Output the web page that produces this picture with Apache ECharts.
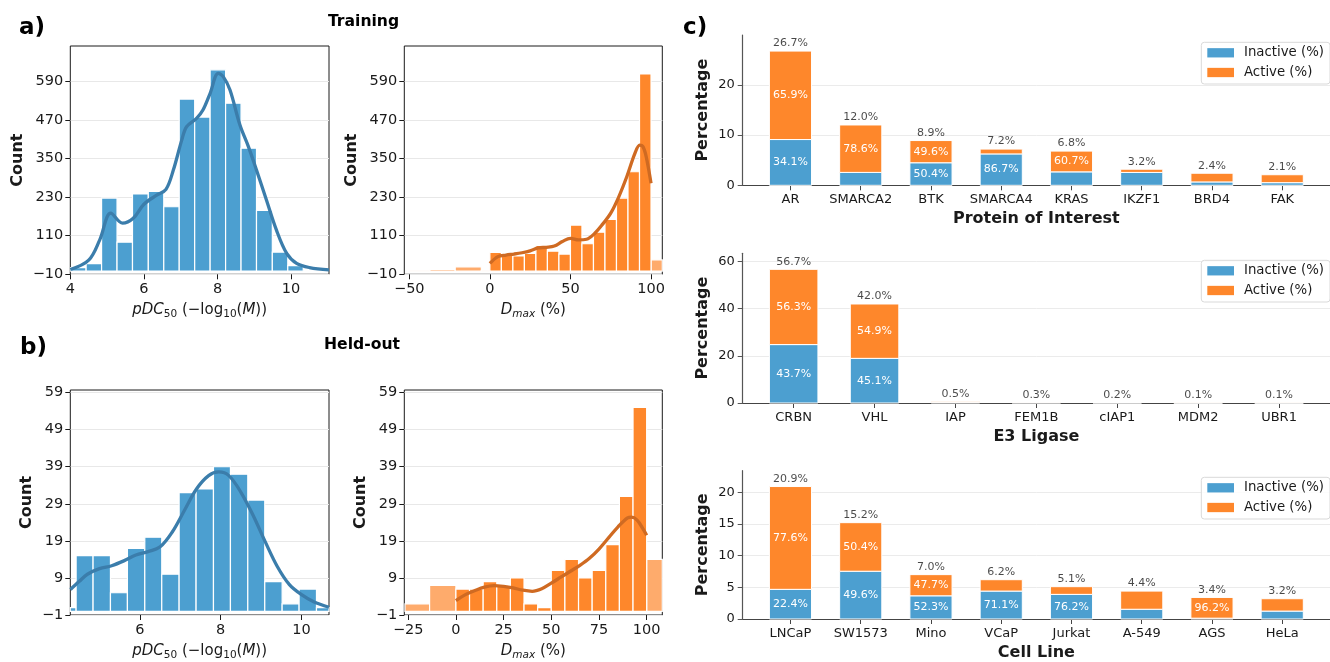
<!DOCTYPE html>
<html><head><meta charset="utf-8">
<script src="https://cdn.jsdelivr.net/npm/echarts@6/dist/echarts.min.js"></script>
<style>html,body{margin:0;padding:0;background:#fff}#c{width:1330px;height:662px}</style>
</head><body><div id="c"></div><script>
// ---------- DATA ----------
// a) Training pDC50 histogram
const trainPdcEdges = [4.01, 4.43, 4.85, 5.27, 5.69, 6.12, 6.54, 6.96, 7.38, 7.80, 8.22, 8.64, 9.06, 9.49, 9.91, 10.33];
const trainPdcCounts = [11, 23, 227, 90, 240, 248, 200, 535, 479, 626, 522, 382, 189, 59, 17];
const trainPdcKdeX = [4.0, 4.5, 4.8, 5.1, 5.42, 5.71, 6.0, 6.35, 6.6, 6.8, 7.03, 7.16, 7.43, 7.6, 7.8, 8.02, 8.16, 8.34, 8.61, 8.84, 9.06, 9.33, 9.6, 9.88, 10.15, 10.5, 11.03];
const trainPdcKdeY = [5, 34, 97, 180, 149, 164, 208, 236, 254, 314, 408, 449, 475, 500, 553, 615, 604, 563, 454, 387, 314, 221, 128, 55, 24, 11, 4];
// a) Training Dmax histogram
const trainDmaxEdges = [0, 7.14, 14.29, 21.43, 28.57, 35.71, 42.86, 50, 57.14, 64.29, 71.43, 78.57, 85.71, 92.86, 100];
const trainDmaxCounts = [58, 49, 47, 55, 80, 62, 53, 143, 85, 121, 161, 227, 309, 613];
const trainDmaxOutLowEdges = [-49.6, -37.2, -21.5, -5.3, 0];
const trainDmaxOutLowCounts = [1, 5, 13, 1];
const trainDmaxOutHighEdges = [100, 107.5];
const trainDmaxOutHighCounts = [35];
const trainDmaxKdeX = [0, 5, 10, 15, 20, 25, 30, 35, 40, 45, 50, 55, 60, 65, 70, 75, 80, 85, 90, 93, 95, 97, 100];
const trainDmaxKdeY = [24, 45, 50, 53, 57, 63, 72, 74, 78, 92, 102, 97, 99, 117, 146, 180, 231, 294, 366, 392, 387, 356, 273];
// b) Held-out pDC50 histogram
const heldPdcEdges = [3.99, 4.42, 4.84, 5.27, 5.69, 6.12, 6.54, 6.97, 7.39, 7.82, 8.24, 8.67, 9.09, 9.52, 9.94, 10.37, 10.79];
const heldPdcCounts = [1, 15, 15, 5, 17, 20, 10, 32, 33, 39, 37, 30, 8, 2, 6, 1];
const heldPdcKdeX = [4.28, 4.5, 4.7, 5.0, 5.3, 5.6, 5.9, 6.2, 6.5, 6.8, 7.1, 7.4, 7.7, 7.95, 8.2, 8.5, 8.8, 9.1, 9.4, 9.7, 10.0, 10.3, 10.68];
const heldPdcKdeY = [5.9, 8.1, 10, 11.5, 12.3, 13.6, 15.2, 16.1, 17.4, 21.4, 27.2, 33, 36.6, 37.6, 36.6, 32.1, 25.9, 18.8, 12.1, 7.2, 4.5, 2.6, 1.1];
// b) Held-out Dmax histogram
const heldDmaxEdges = [0, 7.14, 14.29, 21.43, 28.57, 35.71, 42.86, 50, 57.14, 64.29, 71.43, 78.57, 85.71, 92.86, 100];
const heldDmaxCounts = [6, 6, 8, 7, 9, 2, 1, 11, 14, 9, 11, 18, 31, 55];
const heldDmaxOutLowEdges = [-26.7, -13.8, 0];
const heldDmaxOutLowCounts = [2, 7];
const heldDmaxOutHighEdges = [100, 108.5];
const heldDmaxOutHighCounts = [14];
const heldDmaxKdeX = [0, 5, 10, 15, 20, 25, 30, 35, 40, 45, 50, 55, 60, 65, 70, 75, 80, 85, 90, 92, 95, 98, 100];
const heldDmaxKdeY = [2.9, 4.5, 5.6, 6.5, 6.9, 6.7, 6.3, 5.7, 5.4, 6.1, 7.6, 9.2, 10.8, 12.4, 14.3, 16.8, 19.8, 22.8, 25.2, 25.4, 24.6, 22.3, 20.5];
// tick labels
const trainCountTicks = [-10, 110, 230, 350, 470, 590];
const heldCountTicks = [-1, 9, 19, 29, 39, 49, 59];
const trainPdcTicks = [4, 6, 8, 10];
const heldPdcTicks = [6, 8, 10];
const trainDmaxTicks = [-50, 0, 50, 100];
const heldDmaxTicks = [-25, 0, 25, 50, 75, 100];
// c) stacked bars
const proteins = ['AR', 'SMARCA2', 'BTK', 'SMARCA4', 'KRAS', 'IKZF1', 'BRD4', 'FAK'];
const proteinTotal = [26.7, 12.0, 8.9, 7.2, 6.8, 3.2, 2.4, 2.1];
const proteinInactivePct = [34.1, 21.4, 50.4, 86.7, 39.3, 80.0, 28.0, 25.0];
const ligases = ['CRBN', 'VHL', 'IAP', 'FEM1B', 'cIAP1', 'MDM2', 'UBR1'];
const ligaseTotal = [56.7, 42.0, 0.5, 0.3, 0.2, 0.1, 0.1];
const ligaseInactivePct = [43.7, 45.1, 50.0, 50.0, 50.0, 50.0, 50.0];
const cells = ['LNCaP', 'SW1573', 'Mino', 'VCaP', 'Jurkat', 'A-549', 'AGS', 'HeLa'];
const cellTotal = [20.9, 15.2, 7.0, 6.2, 5.1, 4.4, 3.4, 3.2];
const cellInactivePct = [22.4, 49.6, 52.3, 71.1, 76.2, 35.0, 3.8, 39.0];
const proteinTicks = [0, 10, 20];
const ligaseTicks = [0, 20, 40, 60];
const cellTicks = [0, 5, 10, 15, 20];

// ---------- STYLE ----------
const FONT = 'DejaVu Sans';
const TXT = '#1a1a1a';
const BLUE = '#4c9fd0', ORANGE = '#fe872b', LIGHT_OR = '#feab6c';
const KDE_BLUE = '#3b7dab', KDE_OR = '#cf6a22';
const BAR_FRAC = 0.6;
const minus = v => (v < 0 ? '\u2212' + Math.abs(v) : String(v));

const grids = [
  {left: 70.3, top: 46, width: 258.7, height: 228.3},
  {left: 404.3, top: 46, width: 258, height: 228.3},
  {left: 70.3, top: 390, width: 258.7, height: 227.3},
  {left: 404.3, top: 390, width: 258, height: 227.3},
  {left: 742.7, top: 35, width: 594, height: 150.3},
  {left: 742.7, top: 253.3, width: 594, height: 149.7},
  {left: 742.7, top: 470.7, width: 594, height: 150}
].map((g, i) => Object.assign(g, i < 4 ? {show: true, borderColor: '#1a1a1a', borderWidth: 1, backgroundColor: 'transparent'} : {show: false}));

const richName = {
  i: {fontStyle: 'italic', fontSize: 15, fontFamily: FONT, color: TXT},
  s: {fontSize: 10.5, fontFamily: FONT, color: TXT, padding: [8, 0, 0, 0]},
  si: {fontSize: 10.5, fontStyle: 'italic', fontFamily: FONT, color: TXT, padding: [8, 0, 0, 0]}
};
const pdcName = '{i|pDC}{s|50} (\u2212log{s|10}({i|M}))';
const dmaxName = '{i|D}{si|max} (%)';

function histXAxis(gi, min, max, ticks, name) {
  return {type: 'value', gridIndex: gi, min, max,
    axisLine: {show: false, onZero: false}, splitLine: {show: false},
    axisTick: {show: true, length: 5, lineStyle: {color: TXT}, customValues: ticks},
    axisLabel: {customValues: ticks, formatter: minus, fontSize: 14.5, color: TXT, fontFamily: FONT, margin: 7.5},
    name, nameLocation: 'middle', nameGap: 26,
    nameTextStyle: {fontSize: 15, fontFamily: FONT, color: TXT, lineHeight: 20, rich: richName}};
}
function histYAxis(gi, min, max, ticks, gap) {
  return {type: 'value', gridIndex: gi, min, max,
    axisLine: {show: false, onZero: false},
    axisTick: {show: true, length: 5, lineStyle: {color: TXT}, customValues: ticks},
    axisLabel: {customValues: ticks, formatter: minus, fontSize: 14.5, color: TXT, fontFamily: FONT, margin: 7},
    splitLine: {show: true, lineStyle: {color: '#e8e8e8', width: 1}},
    name: 'Count', nameLocation: 'middle', nameGap: gap,
    nameTextStyle: {fontSize: 16, fontWeight: 'bold', fontFamily: FONT, color: TXT}};
}
function histData(edges, counts) {
  return counts.map((c, i) => [edges[i], edges[i + 1], c]);
}
function clipToGrid(params, r) {
  const cs = params.coordSys;
  return echarts.graphic.clipRectByRect(r, {x: cs.x, y: cs.y, width: cs.width, height: cs.height});
}
function histSeries(gi, edges, counts, color) {
  return {type: 'custom', xAxisIndex: gi, yAxisIndex: gi, encode: {x: [0, 1], y: 2},
    data: histData(edges, counts), z: 2, silent: true,
    renderItem: function (params, api) {
      const p0 = api.coord([api.value(0), api.value(2)]);
      const p1 = api.coord([api.value(1), 0]);
      const r = clipToGrid(params, {x: p0[0], y: p0[1], width: p1[0] - p0[0], height: p1[1] - p0[1]});
      if (!r) return null;
      return {type: 'rect', shape: r, style: {fill: color, stroke: '#fff', lineWidth: 1.2}};
    }};
}
function kdeSeries(gi, xs, ys, color) {
  return {type: 'line', xAxisIndex: gi, yAxisIndex: gi, data: xs.map((x, i) => [x, ys[i]]),
    smooth: 0.35, symbol: 'none', z: 5, clip: true, silent: true,
    lineStyle: {color, width: 3.3}};
}

// panel c helpers
function catXAxis(gi, cats, min, max, title) {
  const idx = cats.map((_, i) => i);
  return {type: 'value', gridIndex: gi, min, max,
    axisLine: {show: true, onZero: false, lineStyle: {color: '#444', width: 1.2}},
    axisTick: {show: true, length: 5, lineStyle: {color: '#444'}, customValues: idx},
    axisLabel: {customValues: idx, formatter: v => cats[Math.round(v)], fontSize: 13, color: TXT, fontFamily: FONT, margin: 8},
    splitLine: {show: false},
    name: title, nameLocation: 'middle', nameGap: 26,
    nameTextStyle: {fontSize: 16, fontWeight: 'bold', fontFamily: FONT, color: TXT}};
}
function pctYAxis(gi, max, ticks) {
  return {type: 'value', gridIndex: gi, min: 0, max,
    axisLine: {show: true, onZero: false, lineStyle: {color: '#555', width: 1.2}},
    axisTick: {show: true, length: 5, lineStyle: {color: '#555'}, customValues: ticks},
    axisLabel: {customValues: ticks, fontSize: 13, color: TXT, fontFamily: FONT, margin: 8},
    splitLine: {show: true, lineStyle: {color: '#ebebeb', width: 1}},
    name: 'Percentage', nameLocation: 'middle', nameGap: 32,
    nameTextStyle: {fontSize: 16, fontWeight: 'bold', fontFamily: FONT, color: TXT}};
}

function segRender(params, api) {
  const i = api.value(0), base = api.value(1), top = api.value(2);
  const p0 = api.coord([i - BAR_FRAC / 2, top]);
  const p1 = api.coord([i + BAR_FRAC / 2, base]);
  const r = clipToGrid(params, {x: p0[0], y: p0[1], width: p1[0] - p0[0], height: p1[1] - p0[1]});
  if (!r) return null;
  const item = params.context.items[params.dataIndex];
  const el = {type: 'rect', shape: r, style: {fill: api.visual('color'), stroke: '#fff', lineWidth: 1}};
  if (item.show) {
    el.textContent = {style: {text: item.text, fill: '#fff', fontSize: 11, fontFamily: FONT}};
    el.textConfig = {position: 'inside'};
  }
  return el;
}
function stackSeries(gi, totals, inactPct) {
  const inact = totals.map((t, i) => t * inactPct[i] / 100);
  const act = totals.map((t, i) => t - inact[i]);
  const mk = (name, color, bases, tops, texts) => {
    const items = tops.map((t, i) => ({show: t - bases[i] >= 3, text: texts[i]}));
    return {name, type: 'custom', xAxisIndex: gi, yAxisIndex: gi, encode: {x: 0, y: [1, 2]},
      itemStyle: {color}, z: 3, silent: true,
      data: tops.map((t, i) => [i, bases[i], t]),
      renderItem: function (params, api) {
        params.context.items = items;
        return segRender(params, api);
      }};
  };
  return [
    mk('Inactive (%)', BLUE, inact.map(() => 0), inact, inactPct.map(p => p.toFixed(1) + '%')),
    mk('Active (%)', ORANGE, inact, totals, inactPct.map(p => (100 - p).toFixed(1) + '%')),
    {type: 'scatter', xAxisIndex: gi, yAxisIndex: gi, symbolSize: 0.1, silent: true, z: 6,
      itemStyle: {color: 'transparent'},
      label: {show: true, position: 'top', distance: 2, color: TXT, fontSize: 11, fontFamily: FONT, formatter: p => totals[p.dataIndex].toFixed(1) + '%'},
      data: totals.map((t, i) => [i, t])}
  ];
}
function legendAt(top) {
  return {orient: 'vertical', left: 1201.3, top, icon: 'rect', itemWidth: 26.7, itemHeight: 9.3, itemGap: 6.7,
    padding: [4, 6, 5, 6], borderColor: '#d9d9d9', borderWidth: 1, borderRadius: 3, backgroundColor: 'rgba(255,255,255,0.85)',
    textStyle: {fontSize: 13.3, color: TXT, fontFamily: FONT, padding: [0, 0, 0, 5]},
    data: ['Inactive (%)', 'Active (%)'], selectedMode: false};
}

const cTopRange = [-0.68, 7.68], cMidRange = [-0.63, 6.63];

const option = {
  animation: false,
  textStyle: {fontFamily: FONT},
  grid: grids,
  xAxis: [
    histXAxis(0, 4, 11.03, trainPdcTicks, pdcName),
    histXAxis(1, -53.1, 107, trainDmaxTicks, dmaxName),
    histXAxis(2, 4.276, 10.68, heldPdcTicks, pdcName),
    histXAxis(3, -27.06, 108.2, heldDmaxTicks, dmaxName),
    catXAxis(4, proteins, cTopRange[0], cTopRange[1], 'Protein of Interest'),
    catXAxis(5, ligases, cMidRange[0], cMidRange[1], 'E3 Ligase'),
    catXAxis(6, cells, cTopRange[0], cTopRange[1], 'Cell Line')
  ],
  yAxis: [
    histYAxis(0, -10, 700, trainCountTicks, 44.6),
    histYAxis(1, -10, 700, trainCountTicks, 44.6),
    histYAxis(2, -1, 59.7, heldCountTicks, 35.6),
    histYAxis(3, -1, 59.7, heldCountTicks, 35.6),
    pctYAxis(4, 29.9, proteinTicks),
    pctYAxis(5, 63.5, ligaseTicks),
    pctYAxis(6, 23.4, cellTicks)
  ],
  legend: [legendAt(42.3), legendAt(260.3), legendAt(477.3)],
  graphic: [
    {type: 'text', left: 19, top: 17, style: {text: 'a)', font: 'bold 23px "DejaVu Sans"', fill: '#000'}},
    {type: 'text', left: 20, top: 337, style: {text: 'b)', font: 'bold 23px "DejaVu Sans"', fill: '#000'}},
    {type: 'text', left: 683, top: 17, style: {text: 'c)', font: 'bold 23px "DejaVu Sans"', fill: '#000'}},
    {type: 'text', x: 363.5, y: 21.7, style: {text: 'Training', font: 'bold 15.6px "DejaVu Sans"', fill: '#000', textAlign: 'center', textVerticalAlign: 'middle'}},
    {type: 'text', x: 362, y: 345, style: {text: 'Held-out', font: 'bold 15.6px "DejaVu Sans"', fill: '#000', textAlign: 'center', textVerticalAlign: 'middle'}}
  ],
  series: [
    histSeries(0, trainPdcEdges, trainPdcCounts, BLUE),
    kdeSeries(0, trainPdcKdeX, trainPdcKdeY, KDE_BLUE),
    histSeries(1, trainDmaxOutLowEdges, trainDmaxOutLowCounts, LIGHT_OR),
    histSeries(1, trainDmaxOutHighEdges, trainDmaxOutHighCounts, LIGHT_OR),
    histSeries(1, trainDmaxEdges, trainDmaxCounts, ORANGE),
    kdeSeries(1, trainDmaxKdeX, trainDmaxKdeY, KDE_OR),
    histSeries(2, heldPdcEdges, heldPdcCounts, BLUE),
    kdeSeries(2, heldPdcKdeX, heldPdcKdeY, KDE_BLUE),
    histSeries(3, heldDmaxOutLowEdges, heldDmaxOutLowCounts, LIGHT_OR),
    histSeries(3, heldDmaxOutHighEdges, heldDmaxOutHighCounts, LIGHT_OR),
    histSeries(3, heldDmaxEdges, heldDmaxCounts, ORANGE),
    kdeSeries(3, heldDmaxKdeX, heldDmaxKdeY, KDE_OR),
    ...stackSeries(4, proteinTotal, proteinInactivePct),
    ...stackSeries(5, ligaseTotal, ligaseInactivePct),
    ...stackSeries(6, cellTotal, cellInactivePct)
  ]
};
const chart = echarts.init(document.getElementById('c'), null, {renderer: 'canvas'});
chart.setOption(option);
</script></body></html>
